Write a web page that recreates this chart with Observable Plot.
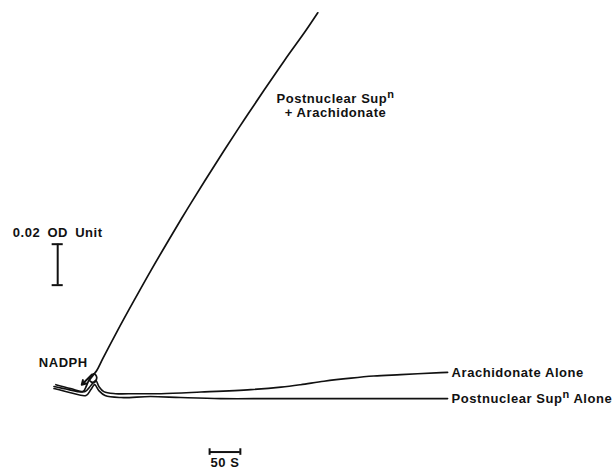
<!DOCTYPE html>
<html>
<head>
<meta charset="utf-8">
<script src="https://cdn.jsdelivr.net/npm/d3@7"></script>
<script src="https://cdn.jsdelivr.net/npm/@observablehq/plot@0.6"></script>
<style>
  html, body { margin: 0; padding: 0; background: #fff; }
  #chart svg { display: block; }
  #chart svg text { letter-spacing: 0.55px; }
</style>
</head>
<body>
<div id="chart"></div>
<script>
// Time (s, NADPH added at 0) and absorbance change (OD units)
const combinedTime = [-63, -39, -16, -10, -5, 2, 6.5, 2, -5, 0, 6.5, 16.3, 40.3, 67.0, 94.5, 122.9, 152.2, 182.3, 213.3, 245.2, 277.9, 311.5, 346.2, 365.9];
const combinedOD   = [0.0015, 0.0, -0.001, 0.002, 0.0054, 0.0078, 0.0059, 0.0034, 0.0044, 0.0068, 0.0093, 0.0151, 0.0288, 0.0434, 0.0581, 0.0727, 0.0874, 0.1020, 0.1166, 0.1313, 0.1459, 0.1606, 0.1752, 0.1840];

const arachTime = [-60, -36, -13, -3, 5, 10, 18, 37, 70, 111, 176, 257, 306, 338, 376, 420, 457, 501, 566, 577];
const arachOD   = [0.0024, 0.0005, -0.001, 0.002, 0.0044, 0.0015, -0.001, -0.002, -0.002, -0.002, -0.0012, 0.0, 0.0012, 0.0024, 0.0041, 0.0056, 0.0066, 0.0073, 0.0083, 0.0084];

const supTime = [-63, -36, -11, -3, 3, 10, 20, 46, 94, 143, 208, 289, 371, 452, 533, 577];
const supOD   = [0.0005, -0.0015, -0.0029, 0.0, 0.0024, -0.0005, -0.0029, -0.0039, -0.0034, -0.0039, -0.0044, -0.0044, -0.0044, -0.0044, -0.0044, -0.0044];

const seriesLabels = ["Postnuclear Supⁿ\n+ Arachidonate", "Arachidonate Alone", "Postnuclear Supⁿ Alone"];
const odBar = 0.02;       // OD units
const timeBar = 50;       // seconds
const odBarLabel = "0.02 OD Unit";
const timeBarLabel = "50 S";
const additionLabel = "NADPH";

// layout anchors (data units)
const odBarAt = {t: -57, od: 0.051};
const timeBarAt = {t: 190, od: -0.0305};
const arrowFrom = {t: -1.6, od: 0.0073};
const arrowTo = {t: -17.9, od: 0.0024};
const labelIdx = 19; // point on the rising trace used to anchor its label

const toRows = (ts, ods) => ts.map((t, i) => ({t, od: ods[i]}));
const combined = toRows(combinedTime, combinedOD);
const arach = toRows(arachTime, arachOD);
const sup = toRows(supTime, supOD);

const font = "'Liberation Sans', Arial, sans-serif";
const txt = {fontSize: 13, fontWeight: "bold", fill: "#111"};

const chart = Plot.plot({
  width: 615,
  height: 471,
  margin: 0,
  style: {background: "#fff", fontFamily: font, color: "#111"},
  x: {domain: [-150, 850], axis: null},
  y: {domain: [-0.04, 0.19], axis: null},
  marks: [
    Plot.line(combined, {x: "t", y: "od", stroke: "#111", strokeWidth: 1.7, curve: "catmull-rom"}),
    Plot.line(arach, {x: "t", y: "od", stroke: "#111", strokeWidth: 1.6, curve: "catmull-rom"}),
    Plot.line(sup, {x: "t", y: "od", stroke: "#111", strokeWidth: 1.6, curve: "catmull-rom"}),
    // NADPH addition arrow
    Plot.arrow([0], {x1: () => arrowFrom.t, y1: () => arrowFrom.od, x2: () => arrowTo.t, y2: () => arrowTo.od,
      stroke: "#111", strokeWidth: 2, headLength: 7}),
    Plot.text([additionLabel], {x: () => arrowFrom.t, y: () => arrowFrom.od, text: d => d, dx: -4, dy: -12,
      textAnchor: "end", ...txt}),
    // Series labels
    Plot.text([seriesLabels[0]], {x: () => combinedTime[labelIdx], y: () => combinedOD[labelIdx], text: d => d,
      dx: 92, dy: -15, textAnchor: "middle", lineHeight: 1.1, ...txt}),
    Plot.text([seriesLabels[1]], {x: () => arachTime[arachTime.length - 1], y: () => arachOD[arachOD.length - 1], text: d => d,
      dx: 4, textAnchor: "start", ...txt}),
    Plot.text([seriesLabels[2]], {x: () => supTime[supTime.length - 1], y: () => supOD[supOD.length - 1], text: d => d,
      dx: 4, textAnchor: "start", ...txt}),
    // OD scale bar
    Plot.ruleX([odBarAt.t], {y1: odBarAt.od, y2: odBarAt.od + odBar, stroke: "#111", strokeWidth: 2}),
    Plot.ruleY([odBarAt.od, odBarAt.od + odBar], {x1: odBarAt.t - 9, x2: odBarAt.t + 9, stroke: "#111", strokeWidth: 2}),
    Plot.text([odBarLabel], {x: () => odBarAt.t, y: () => odBarAt.od + odBar, text: d => d, dy: -11,
      textAnchor: "middle", ...txt}),
    // Time scale bar
    Plot.ruleY([timeBarAt.od], {x1: timeBarAt.t, x2: timeBarAt.t + timeBar, stroke: "#111", strokeWidth: 2}),
    Plot.ruleX([timeBarAt.t, timeBarAt.t + timeBar], {y1: timeBarAt.od - 0.0016, y2: timeBarAt.od + 0.0016, stroke: "#111", strokeWidth: 2}),
    Plot.text([timeBarLabel], {x: () => timeBarAt.t + timeBar / 2, y: () => timeBarAt.od, text: d => d, dy: 11,
      textAnchor: "middle", ...txt})
  ]
});
document.getElementById("chart").appendChild(chart);

// Render the superscript "n" of "Supⁿ" as a raised lowercase n, and widen word gaps of the OD label
d3.select(chart).selectAll("text, tspan").each(function () {
  const el = this;
  if (el.children.length > 0) return;
  const s = el.textContent;
  if (s === odBarLabel) { el.style.wordSpacing = "3px"; return; }
  const i = s.indexOf("ⁿ");
  if (i < 0) return;
  el.textContent = "";
  el.appendChild(document.createTextNode(s.slice(0, i)));
  const sup = document.createElementNS("http://www.w3.org/2000/svg", "tspan");
  sup.textContent = "n";
  sup.setAttribute("font-size", "11");
  sup.setAttribute("baseline-shift", "5");
  el.appendChild(sup);
  if (i + 1 < s.length) el.appendChild(document.createTextNode(s.slice(i + 1)));
});
</script>
</body>
</html>
